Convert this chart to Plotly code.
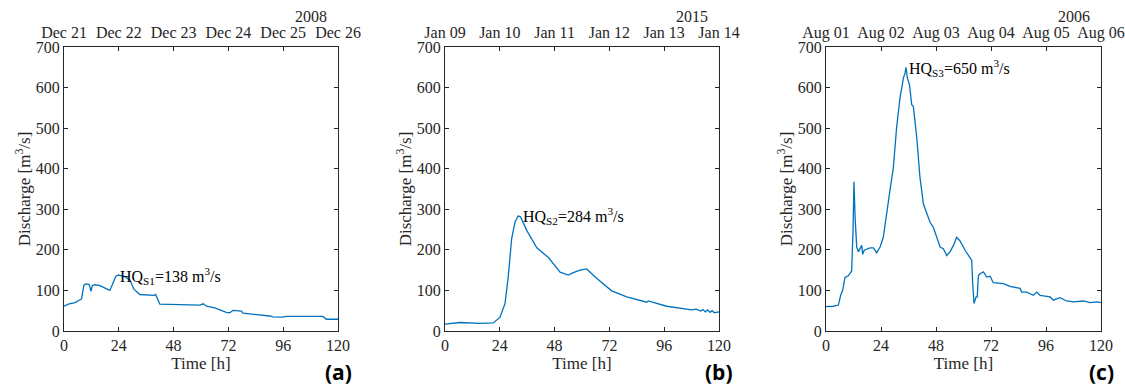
import plotly.graph_objects as go

# ---------------- data ----------------
t_a = [0, 1.9, 4.8, 7.7, 8.7, 9.6, 11, 11.8, 12.4, 13.6, 15.7, 20.1, 22.7, 23.8, 26.7, 28.9,
       30.6, 33.2, 39.4, 40.1, 42, 59.5, 61, 62.4, 66, 71.1, 72.6, 74, 77.7, 78.4, 90.1,
       91.6, 95.6, 97.4, 113.4, 114.9, 120]
q_a = [61, 66, 70, 79, 113, 116, 115, 98, 112, 114, 112, 100, 135, 138, 134, 125,
       103, 90, 88, 90, 66, 64, 67, 61, 57, 46, 45, 51, 49, 44, 37,
       35, 34, 36, 36, 29, 29]

t_b = [0, 5.8, 6.5, 15.3, 21.2, 24.1, 26.3, 27.7, 29.2, 30.7, 32.1, 33.1, 35.8, 40.2, 45.3,
       50.4, 54, 56.2, 59.1, 62, 66.4, 73, 79.6, 88.3, 89, 97.1, 100, 103, 105.9, 108, 110,
       112, 113, 114, 115, 116.1, 117, 118, 120]
q_b = [17, 19, 21, 19, 20, 34, 68, 134, 228, 269, 284, 281, 248, 205, 181,
       145, 138, 144, 150, 153, 130, 99, 84, 71, 74, 61, 59, 56, 54, 52, 54,
       49, 53, 47, 52, 46, 50, 45, 47]

t_c = [0, 3.2, 5.4, 6.4, 7.3, 8.3, 9.7, 11.2, 11.8, 12.2, 12.7, 13.4, 14.1, 14.8, 15.6, 16,
       16.7, 19.2, 20.7, 22.1, 23.6, 25, 26.5, 27.9, 29.4, 30.8, 32.3, 33, 33.8, 34.5, 34.9,
       35.5, 36.4, 37.4, 38.1, 39.6, 41, 42.5, 43.9, 45.4, 46.8, 48.3, 49.8, 51.2, 52.7,
       54.1, 55.6, 57, 58.5, 60.7, 62.9, 63.6, 64, 64.6, 65.5, 66, 66.5, 67.2, 68.7, 70.1,
       71.6, 73, 77.4, 80.3, 84.7, 85.4, 87.6, 90.5, 92, 93.4, 97.8, 99.2, 102.1, 105, 108,
       112.3, 115.2, 118.1, 120]
q_c = [60, 61, 64, 88, 101, 132, 136, 148, 248, 368, 280, 207, 195, 203, 211, 189,
       199, 205, 205, 193, 207, 231, 285, 346, 403, 501, 575, 603, 624, 636, 650,
       624, 608, 558, 554, 477, 379, 313, 293, 268, 256, 231, 207, 203, 186,
       195, 211, 231, 222, 199, 181, 174, 117, 68, 84, 84, 137, 141, 146, 133,
       135, 119, 117, 110, 105, 96, 96, 88, 96, 88, 84, 76, 82, 74, 72,
       74, 70, 72, 70]

dates_a = ["Dec 21", "Dec 22", "Dec 23", "Dec 24", "Dec 25", "Dec 26"]
dates_b = ["Jan 09", "Jan 10", "Jan 11", "Jan 12", "Jan 13", "Jan 14"]
dates_c = ["Aug 01", "Aug 02", "Aug 03", "Aug 04", "Aug 05", "Aug 06"]
years = ["2008", "2015", "2006"]
peaks = ["HQ<sub>S1</sub>=138 m<sup>3</sup>/s",
         "HQ<sub>S2</sub>=284 m<sup>3</sup>/s",
         "HQ<sub>S3</sub>=650 m<sup>3</sup>/s"]
peak_pos = [(23.6, 135), (33.3, 283), (35.2, 648)]
panel_labels = ["(a)", "(b)", "(c)"]
hour_ticks = [0, 24, 48, 72, 96, 120]
q_ticks = [0, 100, 200, 300, 400, 500, 600, 700]

# ---------------- figure ----------------
W, H = 1125, 386
BLUE = "#0072BD"
AX = "#262626"
SERIF = "Liberation Serif, Times New Roman, serif"

domains_px = [(64, 338), (445, 719), (826, 1101)]
ydom = [1 - 331 / H, 1 - 47 / H]

fig = go.Figure()
series = [(t_a, q_a), (t_b, q_b), (t_c, q_c)]
date_sets = [dates_a, dates_b, dates_c]

for i, (tt, qq) in enumerate(series):
    n = i + 1
    xs = "x" if n == 1 else f"x{n}"
    ys = "y" if n == 1 else f"y{n}"
    fig.add_trace(go.Scatter(x=tt, y=qq, mode="lines", line=dict(color=BLUE, width=1.3),
                             xaxis=xs, yaxis=ys, showlegend=False, hoverinfo="skip"))
    # invisible trace for top date axis
    fig.add_trace(go.Scatter(x=[0, 120], y=[None, None], mode="lines",
                             xaxis=f"x{n + 3}", yaxis=ys, showlegend=False, hoverinfo="skip"))

    d0, d1 = domains_px[i]
    dom = [d0 / W, d1 / W]
    axline = dict(showline=True, linecolor=AX, linewidth=1, mirror="ticks", ticks="inside",
                  ticklen=4, tickcolor=AX, showgrid=False, zeroline=False, automargin=False,
                  tickfont=dict(family=SERIF, size=16, color=AX))
    fig.layout[f"xaxis{'' if n == 1 else n}"] = dict(
        domain=dom, anchor=ys, range=[0, 120], tickvals=hour_ticks,
        title=dict(text="Time [h]", font=dict(family=SERIF, size=17, color=AX), standoff=2),
        **axline)
    fig.layout[f"yaxis{'' if n == 1 else n}"] = dict(
        domain=ydom, anchor=xs, range=[0, 700], tickvals=q_ticks,
        title=dict(text="Discharge [m<sup>3</sup>/s]",
                   font=dict(family=SERIF, size=17, color=AX), standoff=0),
        **axline)
    fig.layout[f"xaxis{n + 3}"] = dict(
        overlaying=xs, side="top", anchor=ys, range=[0, 120], tickvals=hour_ticks,
        ticktext=date_sets[i], showgrid=False, zeroline=False, showline=False,
        ticks="outside", ticklen=2, tickcolor="rgba(0,0,0,0)", automargin=False,
        tickfont=dict(family=SERIF, size=16, color=AX))

    fig.add_annotation(x=peak_pos[i][0], y=peak_pos[i][1], xref=xs, yref=ys, text=peaks[i],
                       showarrow=False, xanchor="left", yanchor="middle",
                       font=dict(family=SERIF, size=16, color="black"))
    fig.add_annotation(x=108, y=1 - 16 / H, xref=xs, yref="paper", text=years[i],
                       showarrow=False, xanchor="center", yanchor="middle",
                       font=dict(family=SERIF, size=16, color=AX))
    fig.add_annotation(x=d1 / W, y=1 - 372 / H, xref="paper", yref="paper",
                       text=f"<b>{panel_labels[i]}</b>", showarrow=False,
                       xanchor="center", yanchor="middle",
                       font=dict(family="Open Sans", size=21, color="black"))

fig.update_layout(width=W, height=H, margin=dict(l=0, r=0, t=0, b=0),
                  font=dict(family=SERIF, color=AX),
                  paper_bgcolor="white", plot_bgcolor="white", showlegend=False)

fig.write_html("out.html")
